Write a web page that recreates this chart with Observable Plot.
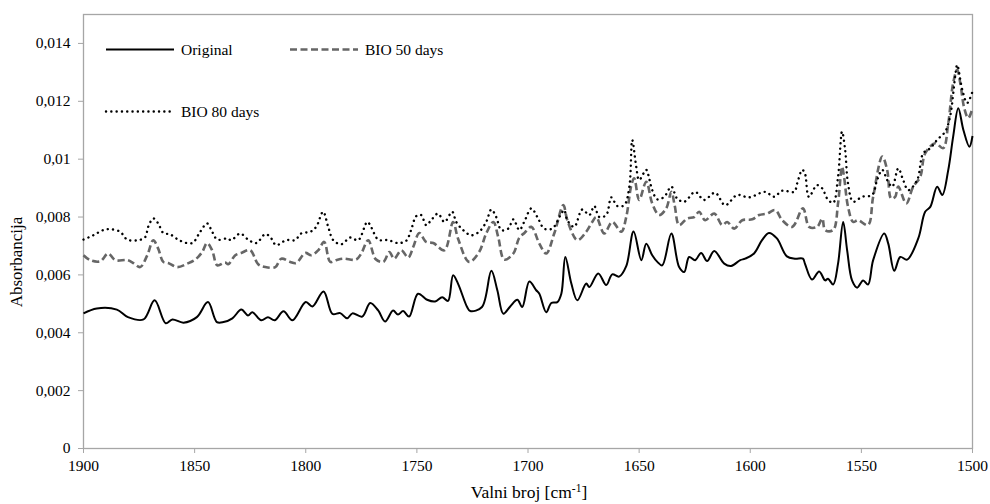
<!DOCTYPE html>
<html>
<head>
<meta charset="utf-8">
<script src="https://cdn.jsdelivr.net/npm/d3@7"></script>
<script src="https://cdn.jsdelivr.net/npm/@observablehq/plot@0.6"></script>
<style>
  html, body { margin: 0; padding: 0; background: #fff; }
  svg { display: block; }
</style>
</head>
<body>
<div id="chart"></div>
<script>
const seriesNames = ["Original", "BIO 50 days", "BIO 80 days"];
const xTicks = [1900, 1850, 1800, 1750, 1700, 1650, 1600, 1550, 1500];
const yTicks = [0, 0.002, 0.004, 0.006, 0.008, 0.010, 0.012, 0.014];
const xLabel = "Valni broj [cm";
const xLabelSup = "-1";
const yLabel = "Absorbancija";

const origWn = [1900,1894,1885,1880,1873,1868,1863,1860,1855,1849,1844,1840,1837,1833,1829,1826,1824,1820,1817,1814,1810,1806,1800,1797,1792,1788,1784.5,1781.4,1779,1774.6,1771,1767.4,1764.3,1760.7,1758.5,1756.2,1753.5,1749.5,1745.4,1741.8,1738.6,1736,1733.7,1731.5,1727.4,1726,1720.7,1716.5,1713.8,1711.1,1708,1704.8,1702.6,1699.4,1696.3,1694.9,1691.8,1689.5,1686.8,1685,1683.2,1680.5,1677.8,1673.8,1672.4,1668.4,1664.8,1662.1,1659,1655.8,1652.5,1649,1646.8,1644.1,1641.8,1639.6,1635.5,1632,1629.7,1627.5,1624.8,1622.1,1619.4,1616.2,1611.7,1608.6,1604.5,1602.3,1598.3,1594.7,1591.6,1588,1583.5,1579.9,1576.3,1575.4,1572.2,1569,1566.3,1565,1562.7,1560.5,1558.2,1556.4,1554.2,1551.9,1549.2,1547,1544.7,1539.7,1537.9,1535.2,1532.5,1529.4,1524.4,1521.3,1519,1515.9,1513.6,1510.9,1508.7,1506.4,1504.1,1501.4,1500];
const origAbs = [0.00467,0.00484,0.00480,0.00454,0.00446,0.00512,0.00433,0.00446,0.00435,0.00454,0.00506,0.00437,0.00437,0.00450,0.00480,0.00460,0.00471,0.00443,0.00454,0.00443,0.00474,0.00443,0.00506,0.00491,0.00543,0.00465,0.00468,0.00450,0.00467,0.00456,0.00503,0.00477,0.00439,0.00477,0.00463,0.00475,0.00456,0.00535,0.00514,0.00508,0.00523,0.00510,0.00599,0.00570,0.00489,0.00475,0.00489,0.00614,0.00547,0.00466,0.00491,0.00514,0.00489,0.00577,0.00547,0.00535,0.00471,0.00503,0.00506,0.00535,0.00662,0.00570,0.00512,0.00570,0.00558,0.00605,0.00565,0.00602,0.00594,0.00630,0.00750,0.00651,0.00708,0.00668,0.00645,0.00633,0.00743,0.00627,0.00610,0.00662,0.00651,0.00676,0.00648,0.00683,0.00639,0.00631,0.00651,0.00656,0.00674,0.00720,0.00745,0.00726,0.00664,0.00656,0.00656,0.00639,0.00584,0.00612,0.00581,0.00587,0.00567,0.00639,0.00783,0.00685,0.00581,0.00556,0.00581,0.00567,0.00651,0.00743,0.00708,0.00614,0.00662,0.00653,0.00726,0.00818,0.00835,0.00905,0.00876,0.00963,0.01078,0.01176,0.01101,0.01043,0.01080];

const bio50Wn = [1900,1897,1892.5,1888.9,1885.7,1880.3,1877.6,1874.5,1871.3,1868.6,1866.4,1864.1,1861.9,1857.8,1853.3,1849.7,1846.6,1844.4,1842.1,1839.8,1836.3,1834.9,1831.7,1829,1825,1821.4,1818.2,1813.7,1811,1807,1804.3,1800.2,1797.5,1794.4,1791.7,1789,1786.3,1783.1,1777.3,1775,1771.9,1768.5,1765.1,1762.4,1760.2,1757,1753.9,1751.6,1748.9,1745.8,1742.6,1737.6,1733.7,1731.5,1726.5,1722,1718.8,1715.6,1713.4,1710.7,1706.6,1703.9,1701.6,1698.5,1694.9,1691.8,1688.2,1684.1,1682.3,1677.8,1673.8,1671.1,1669.3,1665.7,1662.1,1658,1655.8,1653.5,1652.2,1650,1646.8,1644.1,1641,1637.8,1635.5,1634,1632,1628.4,1625.2,1623,1620.3,1616.2,1612.6,1610.4,1607.2,1603.6,1599.1,1596,1592.4,1588.8,1585.6,1581.1,1576.3,1573.5,1569.9,1567.6,1566.3,1562.7,1560.5,1558.7,1557.8,1556,1553.7,1551.5,1547,1544.7,1540.6,1538.4,1536.6,1534.8,1533.4,1529.8,1526.7,1523.5,1521.3,1516.8,1513.2,1510.9,1508.7,1506.9,1505.5,1503.7,1501.9,1500];
const bio50Abs = [0.00668,0.00651,0.00647,0.00674,0.00651,0.00651,0.00641,0.00627,0.00668,0.00720,0.00691,0.00645,0.00641,0.00627,0.00639,0.00653,0.00679,0.00710,0.00685,0.00633,0.00643,0.00637,0.00668,0.00676,0.00685,0.00637,0.00627,0.00627,0.00656,0.00645,0.00641,0.00676,0.00668,0.00685,0.00714,0.00645,0.00651,0.00656,0.00653,0.00674,0.00720,0.00654,0.00645,0.00679,0.00656,0.00685,0.00660,0.00697,0.00745,0.00714,0.00710,0.00685,0.00783,0.00726,0.00645,0.00679,0.00743,0.00783,0.00731,0.00653,0.00674,0.00729,0.00745,0.00766,0.00708,0.00674,0.00743,0.00841,0.00789,0.00720,0.00749,0.00783,0.00800,0.00743,0.00783,0.00749,0.00800,0.00910,0.00934,0.00859,0.00922,0.00847,0.00807,0.00830,0.00887,0.00840,0.00772,0.00795,0.00800,0.00818,0.00789,0.00812,0.00772,0.00783,0.00760,0.00789,0.00792,0.00807,0.00812,0.00824,0.00789,0.00766,0.00830,0.00766,0.00766,0.00795,0.00755,0.00755,0.00847,0.00974,0.00939,0.00835,0.00783,0.00789,0.00772,0.00870,0.01009,0.00963,0.00864,0.00870,0.00905,0.00847,0.00905,0.00939,0.01020,0.01055,0.01038,0.01124,0.01263,0.01309,0.01263,0.01176,0.01142,0.01176];

const bio80Wn = [1900,1895.6,1891.1,1888,1883.5,1880.3,1875.4,1872.2,1870.9,1868.6,1866.4,1864.1,1861,1856.5,1851.1,1847.5,1844.4,1842.1,1839.8,1835.3,1833.5,1829.5,1825.9,1822.3,1818.2,1816,1813.3,1808.8,1804.8,1802.1,1798,1795.3,1792.2,1789.9,1787.6,1784,1780,1776.4,1772.3,1770.5,1767.4,1762.9,1758.5,1754.8,1752.6,1750.3,1748.1,1745.8,1743.6,1740.5,1737.6,1734.1,1732.3,1729.2,1725.6,1722,1718.8,1716.5,1714.3,1712,1708.9,1706.6,1703.9,1701.6,1698.5,1695.8,1692.7,1689.1,1685,1683.7,1682.3,1679.2,1675.6,1672.4,1670.2,1667.9,1664.8,1662.5,1659.8,1656.7,1654.4,1653.1,1651.3,1650,1646.8,1645.5,1644.1,1641.8,1638.7,1635.5,1632.9,1629.7,1624.8,1620.8,1615.8,1611.3,1605.9,1600.5,1593.3,1589.3,1585.6,1580.2,1578.9,1576.6,1575.4,1573.6,1570,1567.6,1565.4,1562.7,1560.5,1558.7,1557.3,1556,1553.7,1549.7,1545.2,1542.9,1540.6,1538.4,1536.1,1533.4,1531.2,1528.9,1524.9,1522.2,1519,1515.9,1512.3,1510.1,1507.8,1506.9,1504.6,1502.4,1500];
const bio80Abs = [0.00722,0.00737,0.00755,0.00758,0.00749,0.00722,0.00720,0.00731,0.00766,0.00795,0.00778,0.00745,0.00740,0.00718,0.00710,0.00749,0.00778,0.00749,0.00722,0.00726,0.00720,0.00743,0.00722,0.00710,0.00741,0.00731,0.00703,0.00720,0.00720,0.00743,0.00749,0.00766,0.00818,0.00766,0.00720,0.00706,0.00729,0.00720,0.00783,0.00764,0.00722,0.00720,0.00710,0.00718,0.00755,0.00803,0.00807,0.00772,0.00789,0.00812,0.00783,0.00818,0.00783,0.00755,0.00737,0.00749,0.00783,0.00826,0.00800,0.00755,0.00760,0.00792,0.00755,0.00785,0.00830,0.00800,0.00760,0.00760,0.00812,0.00824,0.00789,0.00766,0.00826,0.00807,0.00838,0.00800,0.00807,0.00868,0.00838,0.00841,0.00905,0.01066,0.00974,0.00928,0.00963,0.00934,0.00893,0.00861,0.00870,0.00905,0.00864,0.00853,0.00887,0.00859,0.00884,0.00841,0.00876,0.00868,0.00887,0.00870,0.00891,0.00887,0.00916,0.00963,0.00951,0.00870,0.00910,0.00899,0.00864,0.00849,0.00939,0.01095,0.01032,0.00916,0.00853,0.00870,0.00876,0.00928,0.00963,0.00928,0.00905,0.00968,0.00928,0.00893,0.00928,0.01020,0.01038,0.01067,0.01095,0.01147,0.01286,0.01326,0.01240,0.01194,0.01234];

const axisGray = "#a6a6a6";
const fontFamily = "'Liberation Serif', 'Times New Roman', serif";
const fmtY = d => d === 0 ? "0" : String(+d.toFixed(3)).replace(".", ",");

const styles = [
  {stroke: "#000000", strokeWidth: 2, strokeDasharray: null, strokeLinecap: "butt"},
  {stroke: "#666666", strokeWidth: 2.6, strokeDasharray: "7,3.5", strokeLinecap: "butt"},
  {stroke: "#000000", strokeWidth: 2.4, strokeDasharray: "0.1,5.2", strokeLinecap: "round"}
];

const plot = Plot.plot({
  width: 990,
  height: 504,
  marginLeft: 83,
  marginRight: 18,
  marginTop: 14,
  marginBottom: 56,
  style: {fontFamily, fontSize: "15.5px", color: "#000", background: "#fff"},
  x: {domain: [1900, 1500]},
  y: {domain: [0, 0.015]},
  marks: [
    Plot.frame({stroke: axisGray, strokeWidth: 1.3}),
    Plot.axisX({ticks: xTicks, tickFormat: d => String(d), tickSize: 5, tickPadding: 6, stroke: axisGray, fill: "#000", label: null, fontSize: 15.5}),
    Plot.axisY({ticks: yTicks, tickFormat: fmtY, tickSize: 5, tickPadding: 8, stroke: axisGray, fill: "#000", label: null, fontSize: 15.5}),
    Plot.line(origAbs, {x: origWn, y: origAbs, curve: "catmull-rom", ...styles[0]}),
    Plot.line(bio50Abs, {x: bio50Wn, y: bio50Abs, curve: "catmull-rom", ...styles[1]}),
    Plot.line(bio80Abs, {x: bio80Wn, y: bio80Abs, curve: "catmull-rom", ...styles[2]})
  ]
});

document.getElementById("chart").appendChild(plot);

const svg = d3.select(plot);
// axis titles
svg.append("text")
  .attr("transform", "translate(22,262) rotate(-90)")
  .attr("text-anchor", "middle")
  .attr("font-family", fontFamily)
  .attr("font-size", 17)
  .attr("fill", "#000")
  .text(yLabel);

const xt = svg.append("text")
  .attr("x", 529).attr("y", 498)
  .attr("text-anchor", "middle")
  .attr("font-family", fontFamily)
  .attr("font-size", 17.5)
  .attr("fill", "#000");
xt.append("tspan").text(xLabel);
xt.append("tspan").attr("font-size", 11.5).attr("dy", -6).text(xLabelSup);
xt.append("tspan").attr("dy", 6).text("]");

// legend
const legendPos = [
  {x1: 106, x2: 174, y: 49.5, tx: 181},
  {x1: 290, x2: 358, y: 49.5, tx: 365},
  {x1: 106, x2: 174, y: 111.5, tx: 181}
];
seriesNames.forEach((name, i) => {
  const p = legendPos[i], s = styles[i];
  const g = svg.append("g");
  g.append("line").attr("x1", p.x1).attr("x2", p.x2).attr("y1", p.y).attr("y2", p.y)
    .attr("stroke", s.stroke).attr("stroke-width", s.strokeWidth)
    .attr("stroke-dasharray", s.strokeDasharray)
    .attr("stroke-linecap", s.strokeLinecap);
  g.append("text").attr("x", p.tx).attr("y", p.y + 5)
    .attr("text-anchor", "start")
    .attr("font-family", fontFamily).attr("font-size", 15.5).attr("fill", "#000")
    .text(name);
});
</script>
</body>
</html>
